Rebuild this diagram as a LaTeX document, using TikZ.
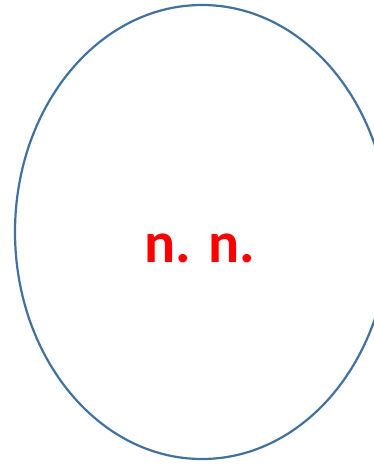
\documentclass[tikz,border=0pt]{standalone}
\usepackage{fontspec}
\setmainfont{Carlito}
\definecolor{edgeblue}{RGB}{65,113,156}
\definecolor{txtred}{RGB}{255,0,0}
\begin{document}
\begin{tikzpicture}[x=1pt,y=1pt,
  oval/.style={draw=edgeblue,line width=2.2pt},
  lbl/.style={text=txtred,font=\fontsize{58}{60}\selectfont\bfseries,anchor=base,inner sep=0pt}]
\useasboundingbox (0,0) rectangle (374,-465);
\clip (0,0) rectangle (374,-465);
\draw[oval] (202,-232) ellipse [x radius=187, y radius=227];
\node[lbl] (t) at (200,-262) {n. n.};
\end{tikzpicture}
\end{document}
